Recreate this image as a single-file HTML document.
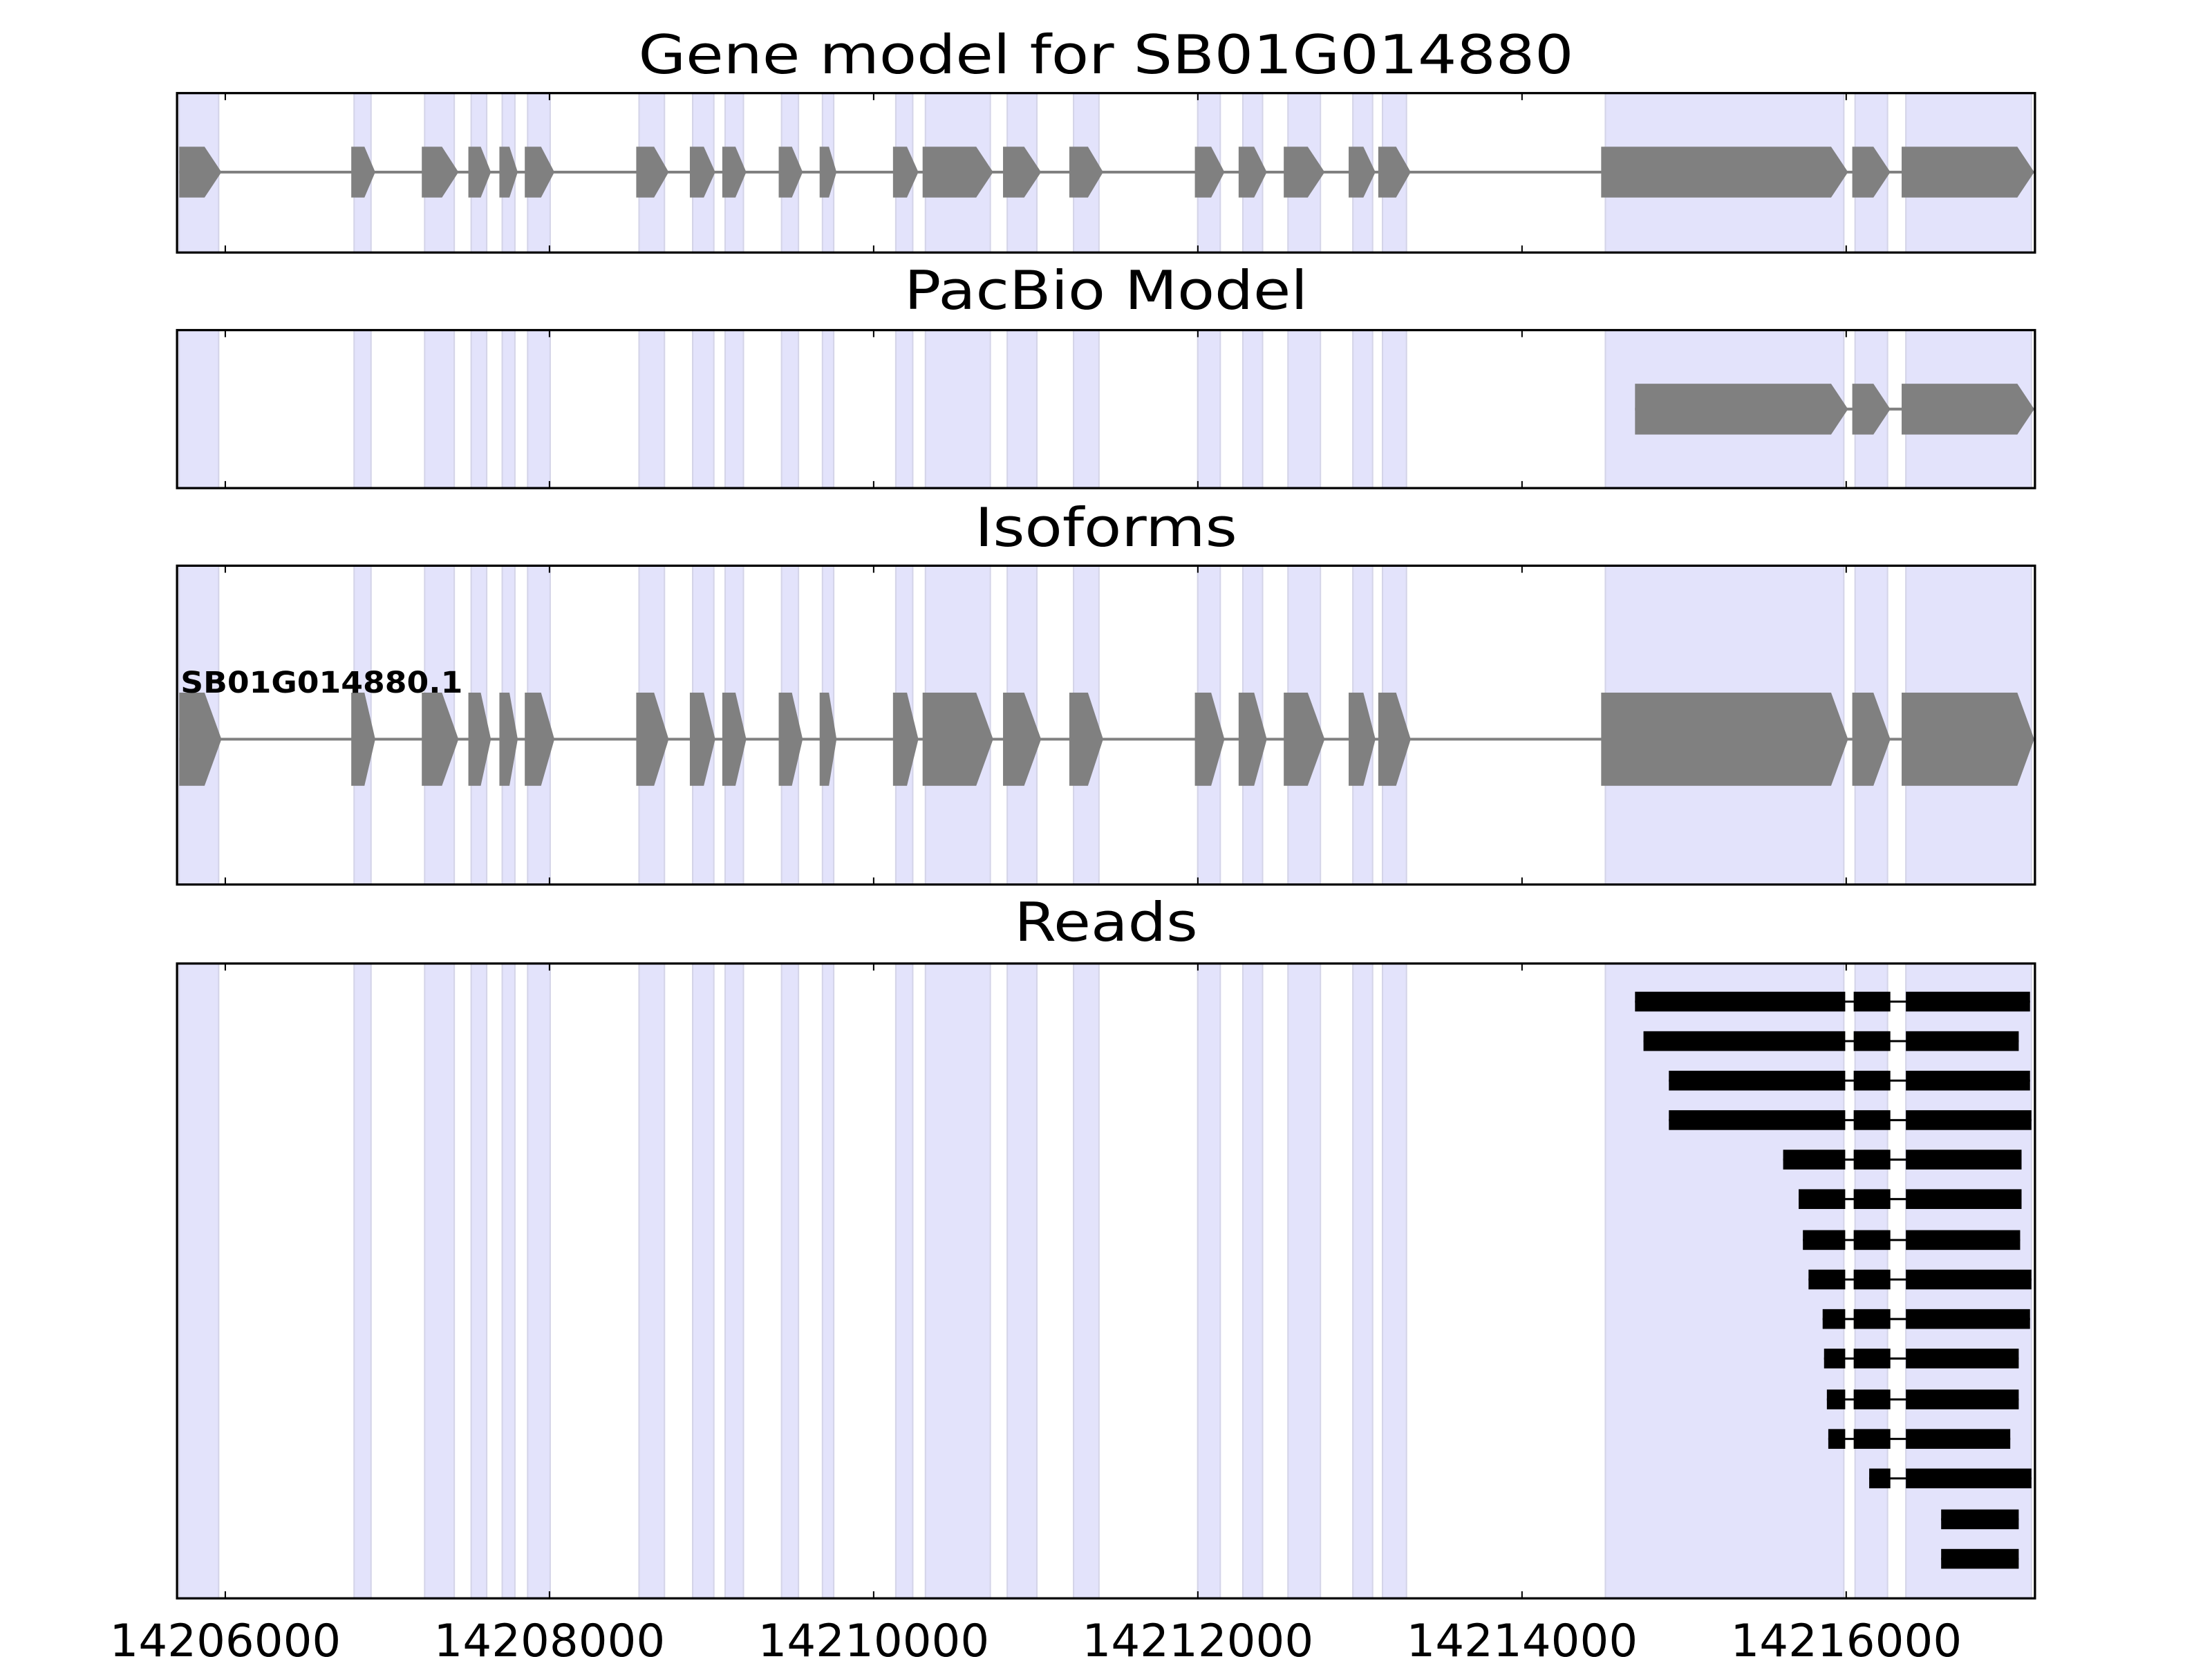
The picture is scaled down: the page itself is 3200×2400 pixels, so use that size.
<!DOCTYPE html>
<html><head><meta charset="utf-8"><style>
html,body{margin:0;padding:0;background:#fff}
svg{display:block}
text{font-family:"DejaVu Sans","Liberation Sans",sans-serif}
</style></head><body>
<svg id="s" xmlns="http://www.w3.org/2000/svg" width="3200" height="2400" viewBox="0 0 1568 1176" preserveAspectRatio="none">
<text x="784" y="52" font-size="38" text-anchor="middle" textLength="663" lengthAdjust="spacingAndGlyphs">Gene model for SB01G014880</text>
<text x="784" y="219" font-size="38" text-anchor="middle" textLength="286" lengthAdjust="spacingAndGlyphs">PacBio Model</text>
<text x="784" y="387" font-size="38" text-anchor="middle" textLength="186" lengthAdjust="spacingAndGlyphs">Isoforms</text>
<text x="784" y="667" font-size="38" text-anchor="middle" textLength="130" lengthAdjust="spacingAndGlyphs">Reads</text>
<g id="g"></g>
<g font-size="32" text-anchor="middle">
<text x="159.7" y="1174" textLength="164" lengthAdjust="spacingAndGlyphs">14206000</text>
<text x="389.5" y="1174" textLength="164" lengthAdjust="spacingAndGlyphs">14208000</text>
<text x="619.3" y="1174" textLength="164" lengthAdjust="spacingAndGlyphs">14210000</text>
<text x="849.1" y="1174" textLength="164" lengthAdjust="spacingAndGlyphs">14212000</text>
<text x="1078.9" y="1174" textLength="164" lengthAdjust="spacingAndGlyphs">14214000</text>
<text x="1308.7" y="1174" textLength="164" lengthAdjust="spacingAndGlyphs">14216000</text>
</g>
<text x="128" y="491" font-size="21" font-weight="bold" textLength="200" lengthAdjust="spacingAndGlyphs">SB01G014880.1</text>
</svg>
<script>
var g=document.getElementById('g'),NS='http://www.w3.org/2000/svg';
function el(t,a){var e=document.createElementNS(NS,t);for(var k in a)e.setAttribute(k,a[k]);g.appendChild(e);return e;}
var ex=[[127,157],[249,266],[299,325],[332,348],[354,367],[372,393],[451,474],[489,507],[512,529],[552,569],[581,593],[633,651],[654,704],[711,738],[758,782],[847,868],[878,898],[910,939],[956,975],[977,1000],[1135,1310],[1313,1340],[1348,1442]];
var sh=[[127,155],[251,263],[301,322],[334,345],[356,365],[374,390],[453,471],[491,506],[514,527],[554,566],[583,591],[635,647],[656,702],[714,735],[761,779],[849,865],[881,895],[913,936],[959,973],[980,997],[1138,1307],[1315,1338],[1351,1440]];
var P=[[66,179],[234,346],[401,627],[683,1133]];
P.forEach(function(p){
 sh.forEach(function(s){el('rect',{x:s[0],y:p[0],width:s[1]-s[0],height:p[1]-p[0],fill:'#e3e3fb',stroke:'#d4d4e8','stroke-width':1});});
});
function gene(list,yc,h){
 el('line',{x1:list[0][0],x2:list[list.length-1][1],y1:yc,y2:yc,stroke:'#808080','stroke-width':2});
 list.forEach(function(e){var w=e[1]-e[0],t=Math.min(0.45*w,12),a=e[0],b=e[1];
 el('polygon',{points:[a,yc-h/2,b-t,yc-h/2,b,yc,b-t,yc+h/2,a,yc+h/2].join(' '),fill:'#808080'});});
}
gene(ex,122,36);
gene([[1159,1310],[1313,1340],[1348,1442]],290,36);
gene(ex,524,66);
var R=[[1159,1439],[1165,1431],[1183,1439],[1183,1440],[1264,1433],[1275,1433],[1278,1432],[1282,1440],[1292,1439],[1293,1431],[1295,1431],[1296,1425],[1325,1440],[1376,1431],[1376,1431]];
var ys=[710,738,766,794,822,850,879,907,935,963,992,1020,1048,1077,1105];
R.forEach(function(r,i){var y=ys[i],h=14;
 var segs;
 if(r[0]>=1351) segs=[[r[0],r[1]]];
 else if(r[0]>=1314) segs=[[r[0],1340],[1351,r[1]]];
 else segs=[[r[0],1308],[1314,1340],[1351,r[1]]];
 el('line',{x1:segs[0][0],x2:segs[segs.length-1][1],y1:y,y2:y,stroke:'#000','stroke-width':1.5});
 segs.forEach(function(s){el('rect',{x:s[0],y:y-h/2,width:s[1]-s[0],height:h,fill:'#000'});});
});
P.forEach(function(p){
 for(var k=0;k<6;k++){var x=159.7+229.8*k;
 el('line',{x1:x,x2:x,y1:p[0],y2:p[0]+5,stroke:'#000','stroke-width':1});
 el('line',{x1:x,x2:x,y1:p[1],y2:p[1]-5,stroke:'#000','stroke-width':1});}
 el('rect',{x:125.5,y:p[0],width:1317,height:p[1]-p[0],fill:'none',stroke:'#000','stroke-width':1.6});
});
</script>
</body></html>
